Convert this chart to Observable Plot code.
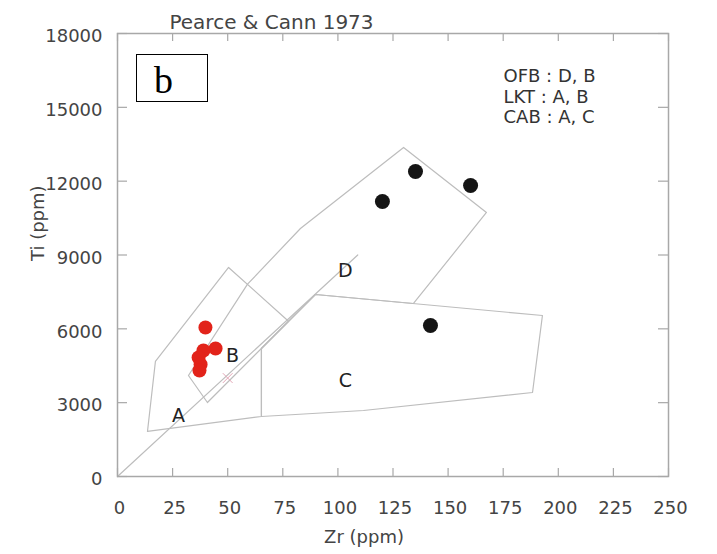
<!DOCTYPE html>
<html>
<head>
<meta charset="utf-8">
<script src="https://cdn.jsdelivr.net/npm/d3@7"></script>
<script src="https://cdn.jsdelivr.net/npm/@observablehq/plot@0.6"></script>
<style>
  html, body { margin: 0; padding: 0; background: #fff; }
  #wrap { position: relative; width: 717px; height: 554px; overflow: hidden; }
  #wrap svg { display: block; }
  .panel { position: absolute; left: 136px; top: 54px; width: 70px; height: 46px;
           border: 1.5px solid #000; background: #fff; }
  .panel span { position: absolute; left: 17px; top: 6px; display: block;
                font: 38px "Liberation Serif", "DejaVu Serif", serif;
                line-height: 38px; color: #000; }
</style>
</head>
<body>
<div id="wrap"></div>
<script>
// ---- data ----
const title = "Pearce & Cann 1973";
const xLabel = "Zr (ppm)";
const yLabel = "Ti (ppm)";
const panelLetter = "b";
const xTicks = [0, 25, 50, 75, 100, 125, 150, 175, 200, 225, 250];
const yTicks = [0, 3000, 6000, 9000, 12000, 15000, 18000];

// field boundaries [Zr, Ti]
const fieldA = [[13.6, 1830], [17.2, 4673], [50.4, 8493], [77.6, 6310], [65.3, 5201], [65.3, 2438]];
const fieldD = [[32.2, 4104], [59.0, 7815], [83.0, 10077], [129.8, 13369], [167.4, 10727], [134.3, 7030], [89.8, 7395], [40.8, 3007]];
const fieldC = [[65.3, 5201], [89.8, 7395], [192.8, 6542], [188.3, 3413], [111.6, 2682], [65.3, 2438]];
const ratioLine = [[0, 0], [109, 9000]];

// samples
const blackZr = [120.2, 135.2, 160.2, 142.0];
const blackTi = [11174, 12393, 11824, 6136];
const redZr = [39.9, 44.5, 39.0, 36.8, 37.7, 37.2];
const redTi = [6054, 5201, 5120, 4835, 4551, 4307];
const crossPt = [[50, 4000]];

// field letters
const fieldNames = ["A", "B", "C", "D"];
const fieldLabelZr = [27.7, 52.2, 103.4, 103.4];
const fieldLabelTi = [2479, 4917, 3901, 8371];

const legendLines = ["OFB : D, B", "LKT : A, B", "CAB : A, C"];

// ---- build tables ----
const polys = [
  ...fieldA.map(([x, y]) => ({x, y, f: "A"})),
  ...fieldD.map(([x, y]) => ({x, y, f: "D"})),
  ...fieldC.map(([x, y]) => ({x, y, f: "C"}))
];
const black = blackZr.map((x, i) => ({x, y: blackTi[i]}));
const red = redZr.map((x, i) => ({x, y: redTi[i]}));
const labels = fieldNames.map((t, i) => ({t, x: fieldLabelZr[i], y: fieldLabelTi[i]}));

const W = 717, H = 554;
const mL = 117, mR = 49, mT = 33, mB = 78;
const innerW = W - mL - mR, innerH = H - mT - mB;
const grey = "#a8a8a8", lineGrey = "#bdbdbd", txt = "#444";

const chart = Plot.plot({
  width: W, height: H,
  marginLeft: mL, marginRight: mR, marginTop: mT, marginBottom: mB,
  x: {domain: [0, 250]},
  y: {domain: [0, 18000]},
  style: {fontFamily: "'DejaVu Sans', sans-serif", fontSize: "18px", color: txt, background: "#fff"},
  marks: [
    Plot.axisX({ticks: xTicks, tickSize: 0, tickPadding: 25, tickFormat: d3.format("d"), label: null, fill: txt, dx: 2}),
    Plot.axisY({ticks: yTicks, tickSize: 0, tickPadding: 15, tickFormat: d3.format("d"), label: null, fill: txt, dy: 3}),
    Plot.tickX(xTicks, {x: d => d, insetTop: innerH - 8, stroke: grey, strokeWidth: 1.2}),
    Plot.tickX(xTicks, {x: d => d, insetBottom: innerH - 8, stroke: grey, strokeWidth: 1.2}),
    Plot.tickY(yTicks, {y: d => d, insetRight: innerW - 10, stroke: grey, strokeWidth: 1.2}),
    Plot.tickY(yTicks, {y: d => d, insetLeft: innerW - 10, stroke: grey, strokeWidth: 1.2}),
    Plot.line(ratioLine, {x: d => d[0], y: d => d[1], stroke: lineGrey, strokeWidth: 1.2}),
    Plot.line(polys, {x: "x", y: "y", z: "f", curve: "linear-closed", stroke: lineGrey, strokeWidth: 1.2}),
    Plot.frame({stroke: grey, strokeWidth: 1.5}),
    Plot.dot(crossPt, {x: d => d[0], y: d => d[1], symbol: "times", r: 4.5, stroke: "#e4a6b6", strokeWidth: 1}),
    Plot.text(labels, {x: "x", y: "y", text: "t", fontSize: 19, fill: "#222"}),
    Plot.dot(black, {x: "x", y: "y", r: 7.5, fill: "#151515"}),
    Plot.dot(red, {x: "x", y: "y", r: 7, fill: "#e2231a"}),
    Plot.text([legendLines.join("\n")], {frameAnchor: "top-left", dx: 386, dy: 34, lineAnchor: "top",
      textAnchor: "start", lineHeight: 1.14, fontSize: 18, fill: "#333"}),
    Plot.text([title], {frameAnchor: "top-left", dx: 154, dy: -19, textAnchor: "middle", fontSize: 20, fill: txt}),
    Plot.text([xLabel], {frameAnchor: "bottom", dx: -29, dy: 66, fontSize: 18, fill: txt}),
    Plot.text([yLabel], {frameAnchor: "left", dx: -79, dy: 6, rotate: -90, fontSize: 18, fill: txt})
  ]
});

const wrap = document.getElementById("wrap");
wrap.appendChild(chart);
const panel = document.createElement("div");
panel.className = "panel";
const letter = document.createElement("span");
letter.textContent = panelLetter;
panel.appendChild(letter);
wrap.appendChild(panel);
</script>
</body>
</html>
